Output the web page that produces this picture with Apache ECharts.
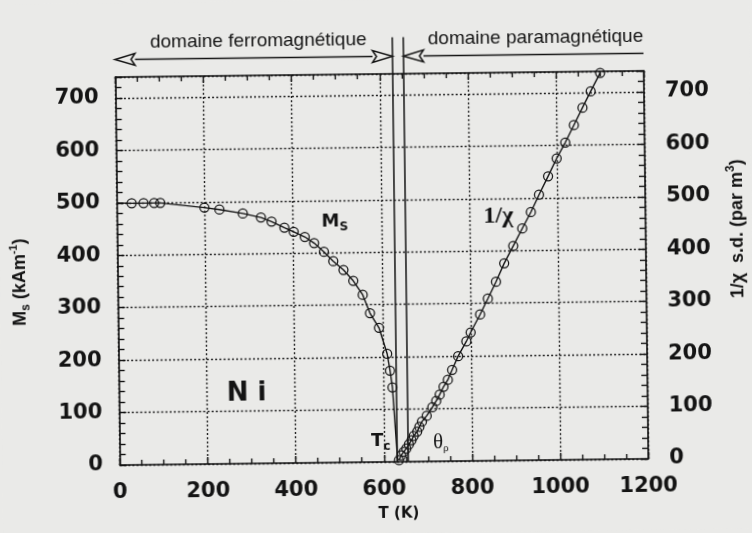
<!DOCTYPE html>
<html><head><meta charset="utf-8">
<script src="https://cdn.jsdelivr.net/npm/echarts@6/dist/echarts.min.js"></script>
<style>
html,body{margin:0;padding:0;background:#eaeae8;overflow:hidden;}
#c{width:752px;height:533px;transform:rotate(-0.68deg);transform-origin:376px 266px;background:#eaeae8;}
</style></head><body><div id="c"></div>
<script>
// ---- data ----
const tempTicks = [0, 200, 400, 600, 800, 1000, 1200];          // T (K)
const valueTicks = [0, 100, 200, 300, 400, 500, 600, 700];       // both y axes
const valueMax = 740;
// Ms (kA/m) measured points
const msTemp  = [34, 61, 85, 99, 199, 233, 286, 327, 351, 380, 401, 426, 447, 469, 490, 513, 535, 556, 572, 592, 610, 616, 621];
const msValue = [499, 499, 499, 499, 489, 485, 477, 469, 461, 449, 441, 431, 419, 402, 384, 367, 346, 319, 284, 256, 206, 174, 142];
const msCurveStart = [0, 500];
const msCurveEnd = [631, 0];
// 1/chi measured points
const chiTemp  = [634, 639, 645, 651, 657, 663, 668, 676, 681, 687, 698, 711, 720, 728, 737, 747, 757, 771, 790, 800, 822, 840, 859, 878, 899, 920, 940, 959, 980, 1000, 1020, 1040, 1060, 1079, 1101];
const chiValue = [3, 12, 19, 25, 33, 41, 49, 57, 66, 76, 87, 103, 115, 127, 142, 155, 174, 200, 228, 245, 279, 309, 341, 376, 409, 442, 473, 506, 541, 575, 605, 638, 671, 702, 737];
const curieTemp = 630;   // Tc
const thetaP = 655;      // θp

// ---- styles ----
const INK = '#141414';
const tickFont = 'DejaVu Sans';

const msPoints = msTemp.map((t, i) => [t, msValue[i]]);
const msCurve = [msCurveStart].concat(msPoints, [msCurveEnd]);
const chiPoints = chiTemp.map((t, i) => [t, chiValue[i]]);

const xBase = {
  type: 'value', min: tempTicks[0], max: tempTicks[tempTicks.length - 1],
  interval: tempTicks[1] - tempTicks[0],
  axisLine: { show: true, onZero: false, lineStyle: { color: INK, width: 1.6 } },
  axisTick: { show: true, inside: true, length: 7, lineStyle: { color: INK, width: 1.4 } },
  minorTick: { show: true, splitNumber: 4, length: 5, lineStyle: { color: INK, width: 1.4 } },
  minorSplitLine: { show: false }
};
const yBase = {
  type: 'value', min: valueTicks[0], max: valueMax,
  interval: valueTicks[1] - valueTicks[0],
  axisLine: { show: true, onZero: false, lineStyle: { color: INK, width: 1.6 } },
  axisTick: { show: true, inside: true, length: 7, lineStyle: { color: INK, width: 1.4 } },
  minorTick: { show: true, splitNumber: 5, length: 6, lineStyle: { color: INK, width: 1.4 } },
  minorSplitLine: { show: false }
};
const yLabelFmt = v => (valueTicks.indexOf(v) >= 0 ? String(v) : '');
const xLabelFmt = v => String(v);
const labelStyle = { color: INK, fontFamily: tickFont, fontWeight: 'bold', fontSize: 21 };
const gridDots = { show: true, lineStyle: { color: '#222', width: 1.4, type: [2, 2.2] } };
const markerStyle = { color: 'rgba(0,0,0,0)', borderColor: INK, borderWidth: 1.25, opacity: 1 };

const option = {
  animation: false,
  backgroundColor: '#eaeae8',
  grid: { left: 117.5, right: 106, top: 74, bottom: 71, containLabel: false },
  xAxis: [
    Object.assign({}, xBase, {
      position: 'bottom',
      axisLabel: Object.assign({ margin: 17, formatter: xLabelFmt }, labelStyle),
      splitLine: gridDots
    }),
    Object.assign({}, xBase, { position: 'top', axisLabel: { show: false }, splitLine: { show: false } })
  ],
  yAxis: [
    Object.assign({}, yBase, {
      position: 'left',
      axisLabel: Object.assign({ margin: 17, formatter: yLabelFmt }, labelStyle),
      splitLine: gridDots
    }),
    Object.assign({}, yBase, {
      position: 'right',
      axisLabel: Object.assign({ margin: 21, formatter: yLabelFmt }, labelStyle),
      splitLine: { show: false }
    })
  ],
  series: [
    { type: 'line', data: msCurve, xAxisIndex: 0, yAxisIndex: 0, showSymbol: false, symbol: 'none',
      lineStyle: { color: INK, width: 1.4 }, z: 3 },
    { type: 'scatter', data: msPoints, xAxisIndex: 0, yAxisIndex: 0, symbol: 'circle', symbolSize: 9,
      itemStyle: markerStyle, z: 4 },
    { type: 'line', data: chiPoints, xAxisIndex: 0, yAxisIndex: 1, showSymbol: false, symbol: 'none',
      lineStyle: { color: INK, width: 1.4 }, z: 3 },
    { type: 'scatter', data: chiPoints, xAxisIndex: 0, yAxisIndex: 1, symbol: 'circle', symbolSize: 9,
      itemStyle: markerStyle, z: 4 }
  ]
};

const chart = echarts.init(document.getElementById('c'), null, { renderer: 'canvas' });
chart.setOption(option);

// ---- annotations (positions derived from axes) ----
const xPx = t => chart.convertToPixel({ xAxisIndex: 0 }, t);
const yPx = v => chart.convertToPixel({ yAxisIndex: 0 }, v);
const xL = xPx(tempTicks[0]), xR = xPx(tempTicks[tempTicks.length - 1]);
const yB = yPx(valueTicks[0]);
const xTc = xPx(curieTemp), xTh = xPx(thetaP);
const yArrow = 56.5, lineTop = 37.5, ahL = 20, ahH = 6;
const ls = { stroke: INK, lineWidth: 1.5, fill: 'none' };

function tok(size, family, weight, extra) {
  return Object.assign({ fontSize: size, fontFamily: family, fontWeight: weight || 'normal', fill: INK, color: INK }, extra || {});
}
function txt(x, y, text, size, family, weight, extra) {
  return {
    type: 'text', x: x, y: y, z: 10,
    style: Object.assign({ text: text, fontSize: size, fontFamily: family, fontWeight: weight || 'normal',
      fill: INK, align: 'center', verticalAlign: 'middle', textAlign: 'center', textVerticalAlign: 'middle' }, extra || {})
  };
}

const graphics = [
  { type: 'line', shape: { x1: xTc, y1: lineTop, x2: xTc, y2: yB }, style: ls, z: 5 },
  { type: 'line', shape: { x1: xTh, y1: lineTop, x2: xTh, y2: yB }, style: ls, z: 5 },
  // ferro arrow
  { type: 'line', shape: { x1: xL + ahL, y1: yArrow, x2: xTc - ahL, y2: yArrow }, style: ls, z: 5 },
  { type: 'polygon', shape: { points: [[xL, yArrow], [xL + ahL, yArrow - ahH], [xL + ahL - 4, yArrow], [xL + ahL, yArrow + ahH]] }, style: ls, z: 5 },
  { type: 'polygon', shape: { points: [[xTc, yArrow], [xTc - ahL, yArrow - ahH], [xTc - ahL + 4, yArrow], [xTc - ahL, yArrow + ahH]] }, style: ls, z: 5 },
  // para arrow
  { type: 'line', shape: { x1: xTh + ahL, y1: yArrow, x2: xR, y2: yArrow }, style: ls, z: 5 },
  { type: 'polygon', shape: { points: [[xTh, yArrow], [xTh + ahL, yArrow - ahH], [xTh + ahL - 4, yArrow], [xTh + ahL, yArrow + ahH]] }, style: ls, z: 5 },
  txt(261, 39.5, 'domaine ferromagnétique', 19, 'Liberation Sans', 'normal'),
  txt(xR, 39.5, 'domaine paramagnétique', 19, 'Liberation Sans', 'normal', { align: 'right', textAlign: 'right' }),
  // x axis name
  txt(396, 514, 'T (K)', 15, 'DejaVu Sans', 'bold'),
  // series labels
  txt(322, 221, '{m|M}{s|S}', 17, 'DejaVu Sans', 'bold', { align: 'left', textAlign: 'left',
    rich: { m: tok(18, 'DejaVu Sans', 'bold', { lineHeight: 24 }), s: tok(12, 'DejaVu Sans', 'bold', { verticalAlign: 'bottom', lineHeight: 12 }) } }),
  txt(499, 218, '1/χ', 24, 'Liberation Serif', 'bold'),
  txt(245, 392, 'N i', 26, 'DejaVu Sans', 'bold'),
  txt(369, 441, '{m|T}{s|c}', 17, 'DejaVu Sans', 'bold', { align: 'left', textAlign: 'left',
    rich: { m: tok(18, 'DejaVu Sans', 'bold', { lineHeight: 24 }), s: tok(12, 'DejaVu Sans', 'bold', { verticalAlign: 'bottom', lineHeight: 12 }) } }),
  txt(431, 443, '{m|θ}{s|ρ}', 20, 'Liberation Serif', 'normal', { align: 'left', textAlign: 'left',
    rich: { m: tok(21, 'Liberation Serif', 'normal', { lineHeight: 24 }), s: tok(11, 'Liberation Serif', 'normal', { verticalAlign: 'bottom', lineHeight: 10 }) } }),
  // axis names
  Object.assign(txt(20, 278, '{a|M}{s|s}{a| (kAm}{p|-1}{a|)}', 18, 'Liberation Sans', 'bold', {
    rich: { a: tok(18, 'Liberation Sans', 'bold', { lineHeight: 24 }),
            s: tok(12, 'Liberation Sans', 'bold', { verticalAlign: 'bottom', lineHeight: 12 }),
            p: tok(11, 'Liberation Sans', 'bold', { verticalAlign: 'top', lineHeight: 11 }) } }), { rotation: Math.PI / 2 }),
  Object.assign(txt(738, 233, '{a|1/χ  s.d. (par m}{p|3}{a|)}', 18, 'Liberation Sans', 'bold', {
    rich: { a: tok(18, 'Liberation Sans', 'bold', { lineHeight: 24 }),
            p: tok(12, 'Liberation Sans', 'bold', { verticalAlign: 'top', lineHeight: 11 }) } }), { rotation: Math.PI / 2 })
];
chart.setOption({ graphic: { elements: graphics } });
</script></body></html>
